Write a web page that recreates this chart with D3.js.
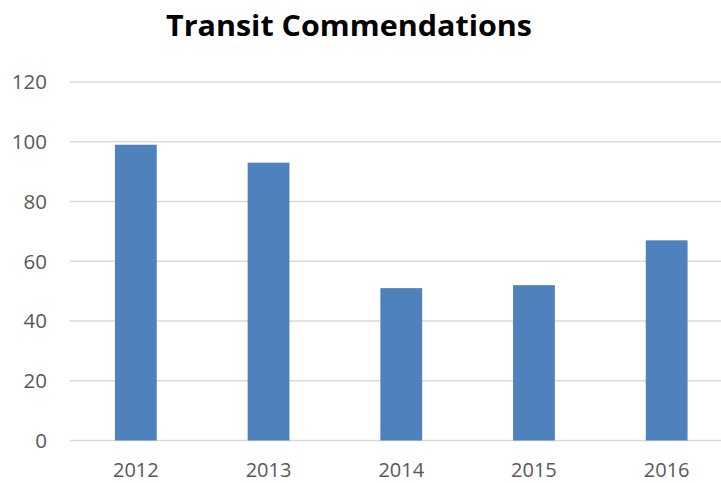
<!DOCTYPE html>
<html><head><meta charset="utf-8">
<script src="https://cdn.jsdelivr.net/npm/d3@7"></script>
<style>body{margin:0;background:#fff}svg{display:block}</style>
</head><body>
<script>
const title = "Transit Commendations";
const categories = ["2012","2013","2014","2015","2016"];
const values = [99, 93, 51, 52, 67];
const yTicks = [0,20,40,60,80,100,120];

const W = 721, H = 483;
const svg = d3.select("body").append("svg").attr("width", W).attr("height", H);
const font = "'Open Sans', 'Liberation Sans', sans-serif";

const x = d3.scaleBand().domain(categories).range([69.5, 733]).paddingInner(0.685).paddingOuter(0.3425);
const y = d3.scaleLinear().domain([0,120]).range([440.5, 82]);

// gridlines
svg.append("g").selectAll("line").data(yTicks).join("line")
  .attr("x1", 70).attr("x2", 733)
  .attr("y1", d => y(d)).attr("y2", d => y(d))
  .attr("stroke", "#d9d9d9").attr("stroke-width", 1.5);

// y axis labels
svg.append("g").selectAll("text").data(yTicks).join("text")
  .attr("x", 47).attr("y", d => y(d)).attr("dy", "0.36em")
  .attr("text-anchor", "end").attr("font-family", font).attr("font-size", 20.5)
  .attr("fill", "#595959").text(d => d);

// bars
svg.append("g").selectAll("rect").data(categories).join("rect")
  .attr("x", d => x(d)).attr("width", x.bandwidth())
  .attr("y", (d,i) => y(values[i])).attr("height", (d,i) => y(0) - y(values[i]))
  .attr("fill", "#4F81BD");

// x labels
svg.append("g").selectAll("text").data(categories).join("text")
  .attr("x", d => x(d) + x.bandwidth()/2).attr("y", 476.5)
  .attr("text-anchor", "middle").attr("font-family", font).attr("font-size", 20)
  .attr("fill", "#595959").text(d => d);

// title
svg.append("text").attr("x", 349).attr("y", 36)
  .attr("text-anchor", "middle").attr("font-family", font).attr("font-weight", "bold")
  .attr("font-size", 29).attr("fill", "#000")
  .attr("textLength", 366).attr("lengthAdjust", "spacingAndGlyphs")
  .text(title);
</script>
</body></html>
